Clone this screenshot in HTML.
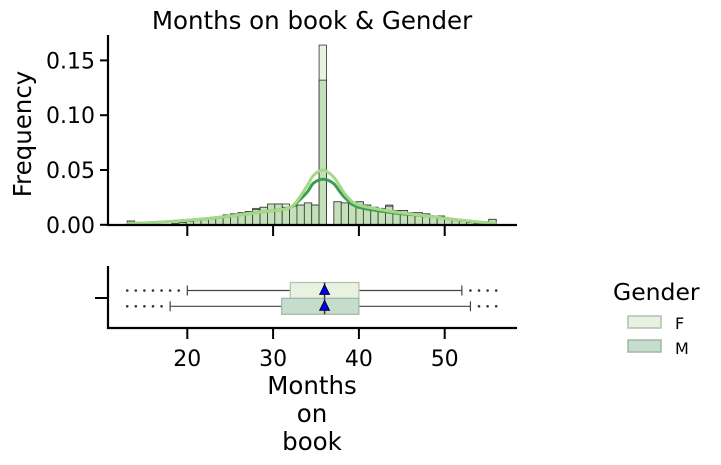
<!DOCTYPE html>
<html><head><meta charset="utf-8"><style>
body{margin:0;background:#fff;}
svg{display:block;font-family:"DejaVu Sans","Liberation Sans",sans-serif;}
</style></head><body>
<svg id="c" width="721" height="465" viewBox="0 0 721 465" xmlns="http://www.w3.org/2000/svg">
<text x="312" y="29" text-anchor="middle" font-size="24.5">Months on book &amp; Gender</text>
<g id="hist"></g>
<g id="box"></g>
<text transform="translate(31,134) rotate(-90)" text-anchor="middle" font-size="24.5">Frequency</text>
<text x="312" y="394" text-anchor="middle" font-size="24.5"><tspan x="312">Months</tspan><tspan x="312" dy="28">on</tspan><tspan x="312" dy="28">book</tspan></text>
<g>
<text x="613" y="300" font-size="23.5">Gender</text>
<rect x="628" y="316" width="33" height="12" fill="#e8f2e0" stroke="#b5bfb0" stroke-width="1.5"/>
<text x="675" y="329" font-size="16">F</text>
<rect x="628" y="340" width="33" height="12" fill="#c5ddcc" stroke="#a3b5a6" stroke-width="1.5"/>
<text x="675" y="354" font-size="16">M</text>
</g>
</svg>
<script>
const binStart = 13, binWidth = 0.86;
const histM = [0.0034,0,0,0,0,0,0.001,0.002,0.003,0.004,0.005,0.006,0.007,0.009,0.010,0.011,0.012,0.014,0.016,0.019,0.019,0.016,0.017,0.018,0.020,0.018,0.132,0,0.021,0.020,0.019,0.021,0.018,0.016,0.015,0.017,0.013,0.013,0.011,0.011,0.010,0.008,0.008,0.006,0.004,0.003,0.002,0.001,0.001,0.005];
const histF = [0.0034,0,0,0,0,0,0.001,0.002,0.003,0.004,0.005,0.006,0.007,0.009,0.010,0.011,0.012,0.015,0.016,0.017,0.019,0.019,0.017,0.018,0.020,0.018,0.164,0,0.021,0.020,0.019,0.021,0.018,0.016,0.015,0.018,0.013,0.013,0.011,0.011,0.010,0.008,0.008,0.006,0.004,0.003,0.002,0.001,0.001,0.005];
const kdeX = [13,16,20,24,28,31,32,32.5,33,34,34.7,35.8,37,37.8,38.6,40,44,48,52,56];
const kdeF = [0.001,0.002,0.004,0.007,0.011,0.014,0.016,0.019,0.024,0.036,0.045,0.050,0.044,0.035,0.026,0.018,0.012,0.008,0.004,0.001];
const kdeM = [0.001,0.002,0.004,0.007,0.011,0.014,0.016,0.018,0.022,0.030,0.038,0.0415,0.038,0.030,0.023,0.016,0.011,0.008,0.004,0.001];
const yTicks = [0,0.05,0.10,0.15];
const yTickLabels = ["0.00","0.05","0.10","0.15"];
const xTicks = [20,30,40,50];
const groups = ["F","M"];
const boxQ1 = [32,31], boxQ3 = [40,40], boxMed = [36,36], boxMean = [36,36];
const whLo = [20,18], whHi = [52,53];
const outliersF = [13,14,15,16,17,18,19,53,54,55,56];
const outliersM = [13,14,15,16,17,54,55,56];

const NS="http://www.w3.org/2000/svg";
const X = v => 15.7 + 8.58*v;
const Y = v => 224.8 - 1096*v;
function mk(parent, tag, attrs){const e=document.createElementNS(NS,tag);for(const k in attrs)e.setAttribute(k,attrs[k]);parent.appendChild(e);return e;}
const H=document.getElementById('hist'), B=document.getElementById('box');

histF.forEach((v,i)=>{ if(v<=0) return;
  const e=mk(H,'rect',{x:X(binStart+i*binWidth),y:Y(v),width:8.58*binWidth,height:Y(0)-Y(v),fill:'#e8f2e0',stroke:'#333','stroke-width':0.8});
  
  
});
histM.forEach((v,i)=>{ if(v<=0) return;
  const e=mk(H,'rect',{x:X(binStart+i*binWidth),y:Y(v),width:8.58*binWidth,height:Y(0)-Y(v),fill:'#c3e0b8',stroke:'#333','stroke-width':0.8});
  
  
});
function line(xs,ys,col,name){
  const p=xs.map((x,i)=>[X(x),Y(ys[i])]);
  let d='M'+p[0][0].toFixed(1)+','+p[0][1].toFixed(1);
  for(let i=0;i<p.length-1;i++){
    const p0=p[Math.max(0,i-1)],p1=p[i],p2=p[i+1],p3=p[Math.min(p.length-1,i+2)];
    const c1=[p1[0]+(p2[0]-p0[0])/6,p1[1]+(p2[1]-p0[1])/6];
    const c2=[p2[0]-(p3[0]-p1[0])/6,p2[1]-(p3[1]-p1[1])/6];
    d+=` C${c1[0].toFixed(1)},${c1[1].toFixed(1)} ${c2[0].toFixed(1)},${c2[1].toFixed(1)} ${p2[0].toFixed(1)},${p2[1].toFixed(1)}`;
  }
  const e=mk(H,'path',{d:d,fill:'none',stroke:col,'stroke-width':3,'stroke-linejoin':'round'});
  
  
}
line(kdeX,kdeM,'#3a9e52','kde-line-m');
line(kdeX,kdeF,'#a5d987','kde-line-f');
let a=mk(H,'path',{d:'M108,35 V225 H517',fill:'none',stroke:'#000','stroke-width':2.2});


yTicks.forEach((t,i)=>{
  mk(H,'line',{x1:100,x2:108,y1:Y(t),y2:Y(t),stroke:'#000','stroke-width':2});
  const tx=mk(H,'text',{x:95,y:Y(t)+8,'text-anchor':'end','font-size':22});
  tx.textContent=yTickLabels[i];
  
  
});
xTicks.forEach(t=>{ mk(H,'line',{x1:X(t),x2:X(t),y1:225,y2:236,stroke:'#000','stroke-width':2}); });

a=mk(B,'path',{d:'M108,266 V328 H517',fill:'none',stroke:'#000','stroke-width':2.2});


mk(B,'line',{x1:95,x2:108,y1:298,y2:298,stroke:'#000','stroke-width':2});
xTicks.forEach(t=>{
  mk(B,'line',{x1:X(t),x2:X(t),y1:328,y2:339,stroke:'#000','stroke-width':2});
  const tx=mk(B,'text',{x:X(t),y:366,'text-anchor':'middle','font-size':22});
  tx.textContent=t;
  
  
});
const rowY=[290.5,306.3], fills=['#e8f2e0','#c5ddcc'], strokes=['#b5bfb0','#a3b5a6'];
groups.forEach((g,i)=>{
  const cy=rowY[i];
  mk(B,'line',{x1:X(whLo[i]),x2:X(whHi[i]),y1:cy,y2:cy,stroke:'#444','stroke-width':1.2});
  mk(B,'line',{x1:X(whLo[i]),x2:X(whLo[i]),y1:cy-5,y2:cy+5,stroke:'#444','stroke-width':1.2});
  mk(B,'line',{x1:X(whHi[i]),x2:X(whHi[i]),y1:cy-5,y2:cy+5,stroke:'#444','stroke-width':1.2});
  const r=mk(B,'rect',{x:X(boxQ1[i]),y:cy-8,width:X(boxQ3[i])-X(boxQ1[i]),height:16,fill:fills[i],stroke:strokes[i],'stroke-width':1.2});
  
  
  mk(B,'line',{x1:X(boxMed[i]),x2:X(boxMed[i]),y1:cy-8,y2:cy+8,stroke:'#333','stroke-width':1.5});
  const mx=X(boxMean[i]);
  const tri=mk(B,'path',{d:`M${mx},${cy-6} L${mx+5},${cy+4} L${mx-5},${cy+4} Z`,fill:'#0000ee',stroke:'#000','stroke-width':0.8});
  
  
  (i===0?outliersF:outliersM).forEach(o=>{
    const c=mk(B,'circle',{cx:X(o),cy:cy,r:1.3,fill:'#333'});
    
    
  });
});
</script>
</body></html>
